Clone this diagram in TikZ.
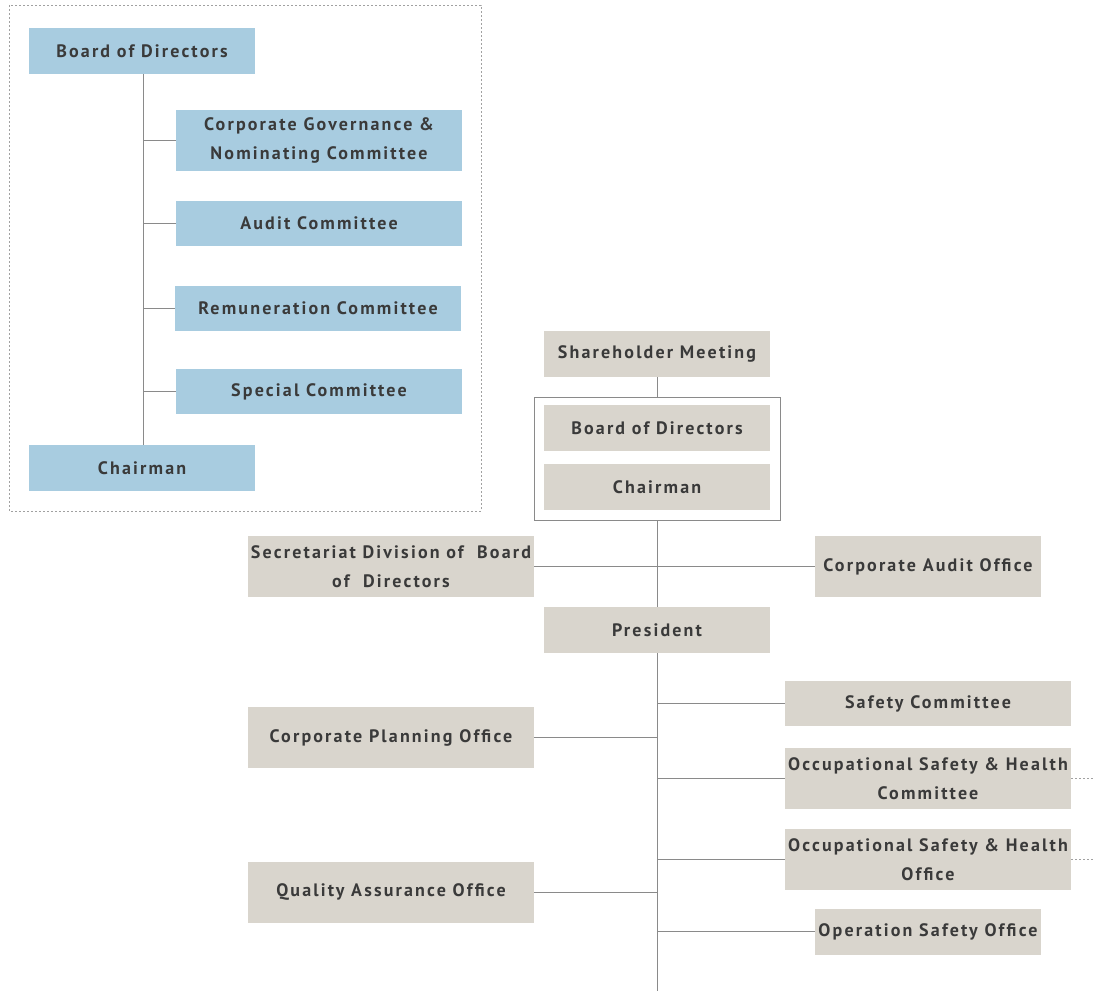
\documentclass[tikz,border=0pt]{standalone}
\usepackage{fontspec}
\setmainfont{PT Sans}[LetterSpace=12]
\usetikzlibrary{positioning,backgrounds}
\definecolor{blueb}{HTML}{A8CCE0}
\definecolor{greyb}{HTML}{D9D5CD}
\definecolor{txt}{HTML}{3A3A3A}
\definecolor{ln}{HTML}{8A8A8A}
\begin{document}
\begin{tikzpicture}[x=1pt,y=-1pt,
  box/.style={fill=#1, text=txt, font=\fontsize{18}{29}\selectfont\bfseries, align=center, inner sep=0pt, anchor=center},
  bw/.style={box=blueb, minimum width=226pt, minimum height=46pt},
  bwide/.style={box=blueb, minimum width=286pt, minimum height=45pt},
  gw/.style={box=greyb, minimum width=226pt, minimum height=46pt},
  gwide/.style={box=greyb, minimum width=286pt, minimum height=61pt},
  gwides/.style={box=greyb, minimum width=286pt, minimum height=45pt},
  conn/.style={draw=ln, line width=1pt},
  dotted line/.style={draw=ln!80, line width=0.9pt, dash pattern=on 2pt off 2pt}]
\useasboundingbox (0,0) rectangle (1094,991);
% left dashed frame
\draw[dotted line] (9,5) rectangle (481,511);
\node[bw] (lbod) at (142,51) {Board of Directors};
\node[bwide, minimum height=61pt] (cgn) at (319,140.5) {Corporate Governance \&\\Nominating Committee};
\node[bwide] (aud) at (319,223.5) {Audit Committee};
\node[bwide] (rem) at (318,308.5) {Remuneration Committee};
\node[bwide] (spc) at (319,391.5) {Special Committee};
\node[bw] (lch) at (142,468) {Chairman};
\coordinate (j1) at (143,140.5);
\coordinate (j2) at (143,223.5);
\coordinate (j3) at (143,308.5);
\coordinate (j4) at (143,391.5);
% right chart
\node[gw] (sh) at (657,354) {Shareholder Meeting};
\node[gw] (rbod) at (657,428) {Board of Directors};
\node[gw] (rch) at (657,487) {Chairman};
\node[draw=ln, line width=1pt, minimum width=246pt, minimum height=123pt, inner sep=0pt] (frame) at (657,458.5) {};
\node[gwide] (sec) at (391,566.5) {Secretariat Division of ~Board\\of ~Directors};
\node[gw, minimum height=61pt] (cao) at (928,566.5) {Corporate Audit Office};
\node[gw] (pres) at (657,630) {President};
\node[gwides] (safc) at (928,703.5) {Safety Committee};
\node[gwide] (cpo) at (391,737.5) {Corporate Planning Office};
\node[gwide] (oshc) at (928,778.5) {Occupational Safety \& Health\\Committee};
\node[gwide] (osho) at (928,859.5) {Occupational Safety \& Health\\Office};
\node[gwide] (qao) at (391,892) {Quality Assurance Office};
\node[gw] (oso) at (928,931.5) {Operation Safety Office};
\coordinate (bottom) at (657,991);
\coordinate (k1) at (657,703);
\coordinate (k2) at (657,737.5);
\coordinate (k3) at (657,778);
\coordinate (k4) at (657,859);
\coordinate (k5) at (657,892);
\coordinate (k6) at (657,931.5);
\coordinate (e1) at (1094,778);
\coordinate (e2) at (1094,859);
\begin{scope}[on background layer]
\draw[conn] (lbod.south -| j1) -- (lch.north -| j1);
\draw[conn] (j1) -- (cgn.west);
\draw[conn] (j2) -- (aud.west);
\draw[conn] (j3) -- (rem.west);
\draw[conn] (j4) -- (spc.west);
\draw[conn] (sh.south) -- (frame.north);
\draw[conn] (frame.south) -- (bottom);
\draw[conn] (sec.east) -- (cao.west);
\draw[conn] (k1) -- (safc.west |- k1);
\draw[conn] (k2) -- (cpo.east);
\draw[conn] (k3) -- (oshc.west |- k3);
\draw[conn] (k4) -- (osho.west |- k4);
\draw[conn] (k5) -- (qao.east);
\draw[conn] (k6) -- (oso.west);
\draw[dotted line] (oshc.east |- e1) -- (e1);
\draw[dotted line] (osho.east |- e2) -- (e2);
\end{scope}
\end{tikzpicture}
\end{document}
